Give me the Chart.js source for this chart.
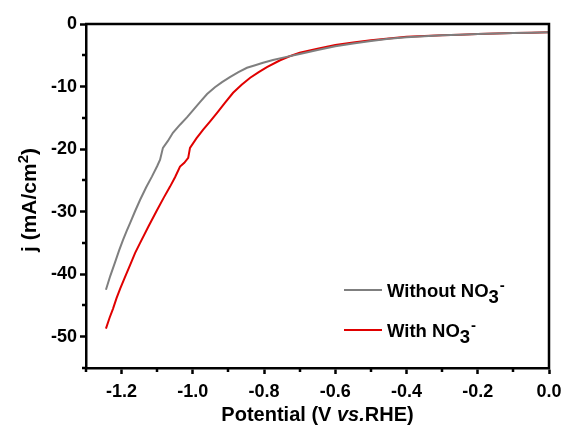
<!DOCTYPE html>
<html><head><meta charset="utf-8">
<script src="https://cdn.jsdelivr.net/npm/chart.js@4.4.0/dist/chart.umd.min.js"></script>
<style>html,body{margin:0;padding:0;background:#fff;}#wrap{width:565px;height:428px;position:relative;}</style>
</head><body><div id="wrap"><canvas id="c"></canvas></div>
<script>
// ---- data ----
const withoutX = [-1.244,-1.232,-1.219,-1.207,-1.196,-1.186,-1.176,-1.162,-1.148,-1.131,-1.115,-1.100,-1.092,-1.084,-1.070,-1.056,-1.036,-1.016,-0.998,-0.980,-0.960,-0.938,-0.918,-0.896,-0.872,-0.848,-0.825,-0.803,-0.775,-0.740,-0.700,-0.650,-0.600,-0.550,-0.500,-0.450,-0.400,-0.350,-0.300,-0.250,-0.200,-0.150,-0.100,-0.050,0.000];
const withoutY = [-42.5,-40.3,-38.2,-36.2,-34.5,-33.1,-31.8,-29.9,-28.1,-26.1,-24.4,-22.7,-21.7,-19.8,-18.7,-17.4,-16.1,-14.9,-13.7,-12.5,-11.2,-10.1,-9.3,-8.5,-7.7,-7.0,-6.6,-6.2,-5.75,-5.3,-4.8,-4.15,-3.55,-3.1,-2.7,-2.35,-2.1,-1.95,-1.8,-1.7,-1.6,-1.52,-1.45,-1.38,-1.3];
const withX = [-1.244,-1.234,-1.224,-1.214,-1.204,-1.190,-1.176,-1.162,-1.148,-1.124,-1.100,-1.082,-1.064,-1.050,-1.036,-1.024,-1.013,-1.008,-0.990,-0.971,-0.952,-0.932,-0.910,-0.887,-0.863,-0.839,-0.815,-0.792,-0.755,-0.730,-0.700,-0.650,-0.600,-0.550,-0.500,-0.450,-0.400,-0.350,-0.300,-0.250,-0.200,-0.150,-0.100,-0.050,0.000];
const withY = [-48.7,-47.0,-45.5,-43.8,-42.3,-40.4,-38.5,-36.6,-35.0,-32.3,-29.7,-27.8,-26.0,-24.5,-22.8,-22.2,-21.4,-19.8,-18.3,-16.9,-15.6,-14.2,-12.6,-11.0,-9.7,-8.6,-7.7,-6.9,-5.8,-5.2,-4.6,-3.95,-3.35,-2.95,-2.6,-2.3,-2.05,-1.92,-1.8,-1.7,-1.6,-1.52,-1.45,-1.38,-1.3];
const xTickValues = [-1.2,-1.0,-0.8,-0.6,-0.4,-0.2,0.0];
const xMinorValues = [-1.3,-1.1,-0.9,-0.7,-0.5,-0.3,-0.1];
const yTickValues = [0,-10,-20,-30,-40,-50];
const yMinorValues = [-5,-15,-25,-35,-45,-55];
const seriesLabels = ['Without NO', 'With NO'];
const seriesColors = ['#7f7f7f', '#e00000'];

const FONT = '"Liberation Sans", Arial, sans-serif';
const AXW = 2.5;

function pts(xs, ys){ return xs.map((x,i)=>({x:x, y:ys[i]})); }

const decorPlugin = {
  id: 'decor',
  afterDraw(chart){
    const ctx = chart.ctx, a = chart.chartArea;
    const xs = chart.scales.x, ys = chart.scales.y;
    ctx.save();
    ctx.strokeStyle = '#000'; ctx.lineWidth = AXW; ctx.lineCap = 'butt';
    // top and right frame
    ctx.beginPath();
    ctx.moveTo(a.left - 1, a.top); ctx.lineTo(a.right, a.top); ctx.lineTo(a.right, a.bottom + 1);
    ctx.stroke();
    // minor ticks
    ctx.beginPath();
    xMinorValues.forEach(v => { const p = Math.round(xs.getPixelForValue(v)); ctx.moveTo(p, a.bottom); ctx.lineTo(p, a.bottom + 4); });
    yMinorValues.forEach(v => { const p = Math.round(ys.getPixelForValue(v)); ctx.moveTo(a.left, p); ctx.lineTo(a.left - 4, p); });
    ctx.stroke();

    ctx.fillStyle = '#000';
    ctx.textBaseline = 'alphabetic';
    // x title with italic "vs."
    const parts = [['Potential (V ', 'bold 20px ' + FONT], ['vs.', 'italic bold 20px ' + FONT], ['RHE)', 'bold 20px ' + FONT]];
    let total = 0;
    parts.forEach(p => { ctx.font = p[1]; total += ctx.measureText(p[0]).width; });
    let x0 = (a.left + a.right) / 2 - total / 2;
    parts.forEach(p => { ctx.font = p[1]; ctx.textAlign = 'left'; ctx.fillText(p[0], x0, 421); x0 += ctx.measureText(p[0]).width; });

    // y title rotated
    ctx.save();
    ctx.translate(36, 200);
    ctx.rotate(-Math.PI / 2);
    ctx.font = 'bold 21px ' + FONT;
    const t1 = 'j (mA/cm', t3 = ')';
    const w1 = ctx.measureText(t1).width, w3 = ctx.measureText(t3).width;
    ctx.font = 'bold 15px ' + FONT;
    const w2 = ctx.measureText('2').width;
    const tw = w1 + w2 + w3;
    let sx = -tw / 2;
    ctx.font = 'bold 21px ' + FONT; ctx.textAlign = 'left';
    ctx.fillText(t1, sx, 0); sx += w1;
    ctx.font = 'bold 15px ' + FONT; ctx.fillText('2', sx, -8); sx += w2;
    ctx.font = 'bold 21px ' + FONT; ctx.fillText(t3, sx, 0);
    ctx.restore();

    // legend
    const legY = [290, 330];
    seriesLabels.forEach((lab, i) => {
      const y = legY[i];
      ctx.strokeStyle = seriesColors[i]; ctx.lineWidth = 2;
      ctx.beginPath(); ctx.moveTo(344, y); ctx.lineTo(382, y); ctx.stroke();
      ctx.fillStyle = '#000'; ctx.textAlign = 'left';
      ctx.font = 'bold 18.5px ' + FONT;
      const bx = 387, by = y + 6.5;
      ctx.fillText(lab, bx, by);
      const wl = ctx.measureText(lab).width;
      ctx.fillText('3', bx + wl, by + 6);
      const w3b = ctx.measureText('3').width;
      ctx.font = 'bold 15px ' + FONT;
      ctx.fillText('-', bx + wl + w3b + 1, by - 7);
    });
    ctx.restore();
  }
};

new Chart(document.getElementById('c'), {
  type: 'scatter',
  data: {
    datasets: [
      { label: seriesLabels[0], data: pts(withoutX, withoutY), showLine: true, borderColor: seriesColors[0], borderWidth: 2, pointRadius: 0, tension: 0, fill: false },
      { label: seriesLabels[1], data: pts(withX, withY), showLine: true, borderColor: seriesColors[1], borderWidth: 2, pointRadius: 0, tension: 0, fill: false }
    ]
  },
  options: {
    responsive: true, maintainAspectRatio: false, animation: false,
    layout: { padding: { left: 0, right: 16, top: 24, bottom: 0 } },
    plugins: { legend: { display: false }, tooltip: { enabled: false } },
    scales: {
      x: {
        type: 'linear', min: -1.3, max: 0,
        afterBuildTicks: s => { s.ticks = xTickValues.map(v => ({ value: v })); },
        afterFit: s => { s.height = 60; s.paddingLeft = 0; s.paddingRight = 0; },
        ticks: { color: '#000', font: { family: FONT, weight: 'bold', size: 18 }, padding: 7, maxRotation: 0, autoSkip: false, callback: v => Number(v).toFixed(1) },
        grid: { drawOnChartArea: false, drawTicks: true, tickLength: 6, tickWidth: AXW, tickColor: '#000' },
        border: { display: true, color: '#000', width: AXW },
        title: { display: false }
      },
      y: {
        type: 'linear', min: -55, max: 0,
        afterBuildTicks: s => { s.ticks = yTickValues.map(v => ({ value: v })); },
        afterFit: s => { s.width = 86; s.paddingTop = 0; s.paddingBottom = 0; },
        ticks: { color: '#000', font: { family: FONT, weight: 'bold', size: 18 }, padding: 3, autoSkip: false, callback: v => String(v) },
        grid: { drawOnChartArea: false, drawTicks: true, tickLength: 6, tickWidth: AXW, tickColor: '#000' },
        border: { display: true, color: '#000', width: AXW },
        title: { display: false }
      }
    }
  },
  plugins: [decorPlugin]
});
</script>
</body></html>
